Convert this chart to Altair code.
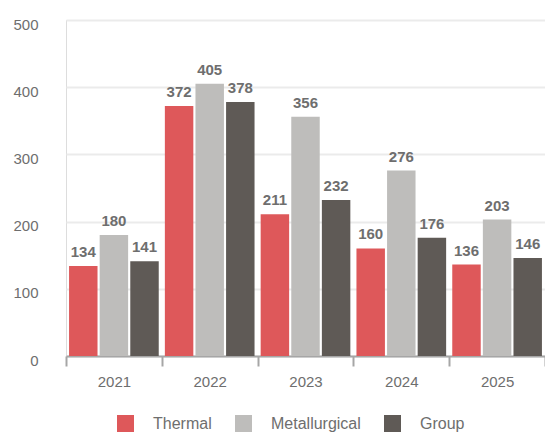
import altair as alt
import pandas as pd

years = ["2021", "2022", "2023", "2024", "2025"]
series = ["Thermal", "Metallurgical", "Group"]
thermal = [134, 372, 211, 160, 136]
metallurgical = [180, 405, 356, 276, 203]
group = [141, 378, 232, 176, 146]
colors = ["#de585a", "#bebdbb", "#5f5a56"]

rows = []
for i, yr in enumerate(years):
    for s, vals in zip(series, [thermal, metallurgical, group]):
        rows.append({"year": yr, "series": s, "value": vals[i]})
df = pd.DataFrame(rows)

x = alt.X(
    "year:N", sort=years,
    scale=alt.Scale(paddingInner=0, paddingOuter=0),
    axis=alt.Axis(title=None, labelAngle=0, tickBand="extent",
                  domainColor="#a6a6a6", domainWidth=2, tickColor="#a6a6a6",
                  tickWidth=2, tickSize=10, labelPadding=8, labelFontSize=15,
                  labelColor="#6e6e6e", grid=False),
)
xo = alt.XOffset("series:N", sort=series,
                 scale=alt.Scale(paddingInner=0.07, paddingOuter=0.1))
y = alt.Y(
    "value:Q", scale=alt.Scale(domain=[0, 500]),
    axis=alt.Axis(title=None, values=[0, 100, 200, 300, 400, 500], domain=False,
                  ticks=False, tickSize=0, labelPadding=28, labelFontSize=15,
                  labelColor="#6e6e6e", gridColor="#ebebeb", gridWidth=2,
                  labelOffset=4),
)
color = alt.Color(
    "series:N", sort=series,
    scale=alt.Scale(domain=series, range=colors),
    legend=alt.Legend(orient="none", legendX=51, legendY=395,
                      direction="horizontal", title=None, symbolType="square",
                      symbolSize=289, labelOffset=19, columnPadding=23,
                      labelFontSize=16, labelColor="#6e6e6e", padding=0,
                      symbolStrokeWidth=0, symbolOpacity=1),
)

bars = alt.Chart(df).mark_bar().encode(x=x, xOffset=xo, y=y, color=color)
labels = alt.Chart(df).mark_text(
    dy=-9, baseline="alphabetic", fontWeight="bold", fontSize=15, color="#6e6e6e"
).encode(x=x, xOffset=xo, y=y, text="value:Q")

chart = (bars + labels).properties(
    width=479, height=336,
    autosize=alt.AutoSizeParams(type="none"),
    padding={"left": 58, "top": 12, "right": 0, "bottom": 76},
).configure_view(stroke=None).configure(font="Liberation Sans")

chart.save("out.html", embed_options={"renderer": "svg", "actions": False})
